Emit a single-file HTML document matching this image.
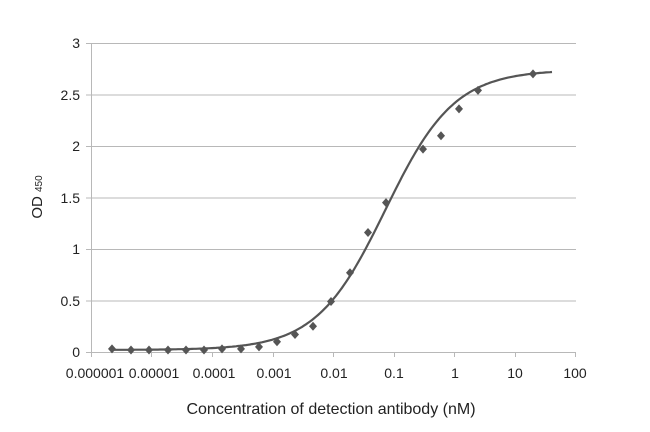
<!DOCTYPE html>
<html><head><meta charset="utf-8"><style>
body{margin:0;background:#fff;}
svg text{font-family:"Liberation Sans",sans-serif;fill:#222;}
</style></head><body>
<svg id="s" width="650" height="427" xmlns="http://www.w3.org/2000/svg">
<g stroke="#b8b8b8" stroke-width="1">
<line x1="86" y1="43.5" x2="576" y2="43.5"/>
<line x1="86" y1="95" x2="576" y2="95"/>
<line x1="86" y1="146.5" x2="576" y2="146.5"/>
<line x1="86" y1="198" x2="576" y2="198"/>
<line x1="86" y1="249.5" x2="576" y2="249.5"/>
<line x1="86" y1="301" x2="576" y2="301"/>
<line x1="86" y1="352.5" x2="576" y2="352.5"/>
<line x1="91.5" y1="43" x2="91.5" y2="357"/>
<line x1="151.5" y1="352" x2="151.5" y2="357"/>
<line x1="212.5" y1="352" x2="212.5" y2="357"/>
<line x1="273.5" y1="352" x2="273.5" y2="357"/>
<line x1="333.5" y1="352" x2="333.5" y2="357"/>
<line x1="394.5" y1="352" x2="394.5" y2="357"/>
<line x1="454.5" y1="352" x2="454.5" y2="357"/>
<line x1="515.5" y1="352" x2="515.5" y2="357"/>
<line x1="575.5" y1="352" x2="575.5" y2="357"/>
</g>
<g font-size="14" text-anchor="end">
<text x="80" y="48">3</text><text x="80" y="100">2.5</text><text x="80" y="151">2</text>
<text x="80" y="203">1.5</text><text x="80" y="254">1</text><text x="80" y="306">0.5</text>
<text x="80" y="357">0</text>
</g>
<g font-size="14" text-anchor="middle">
<text x="95" y="378">0.000001</text><text x="154" y="378">0.00001</text><text x="214" y="378">0.0001</text>
<text x="274" y="378">0.001</text><text x="334" y="378">0.01</text><text x="394" y="378">0.1</text>
<text x="455" y="378">1</text><text x="515" y="378">10</text><text x="575" y="378">100</text>
</g>
<text x="331" y="414" font-size="16" text-anchor="middle">Concentration of detection antibody (nM)</text>
<text transform="translate(42,197) rotate(-90)" font-size="15" text-anchor="middle">OD <tspan font-size="10">450</tspan></text>
<path id="c" fill="none" stroke="#555" stroke-width="2.2"/>
<g id="p" fill="#555"></g>
</svg>
<script>
var Y=function(v){return 352-v*103};
var d="";for(var px=112;px<=553;px+=2){var l=(px-394)/60.5-1,x=Math.pow(10,l);var v=0.02+2.72/(1+Math.pow(0.072/x,0.76));d+=(d?"L":"M")+px+" "+Y(v).toFixed(1);}
document.getElementById("c").setAttribute("d",d);
var pts=[[112,.03],[131,.02],[149,.02],[168,.02],[186,.02],[204,.02],[222,.03],[241,.03],[259,.05],[277,.1],[295,.17],[313,.25],[331,.49],[350,.77],[368,1.16],[386,1.45],[423,1.97],[441,2.1],[459,2.36],[478,2.54],[533,2.7]];
var g=document.getElementById("p"),h="";pts.forEach(function(p){var y=Y(p[1]);h+='<path d="M'+p[0]+' '+(y-4.5)+'L'+(p[0]+4)+' '+y+'L'+p[0]+' '+(y+4.5)+'L'+(p[0]-4)+' '+y+'Z"/>';});
g.innerHTML=h;
</script>
</body></html>
